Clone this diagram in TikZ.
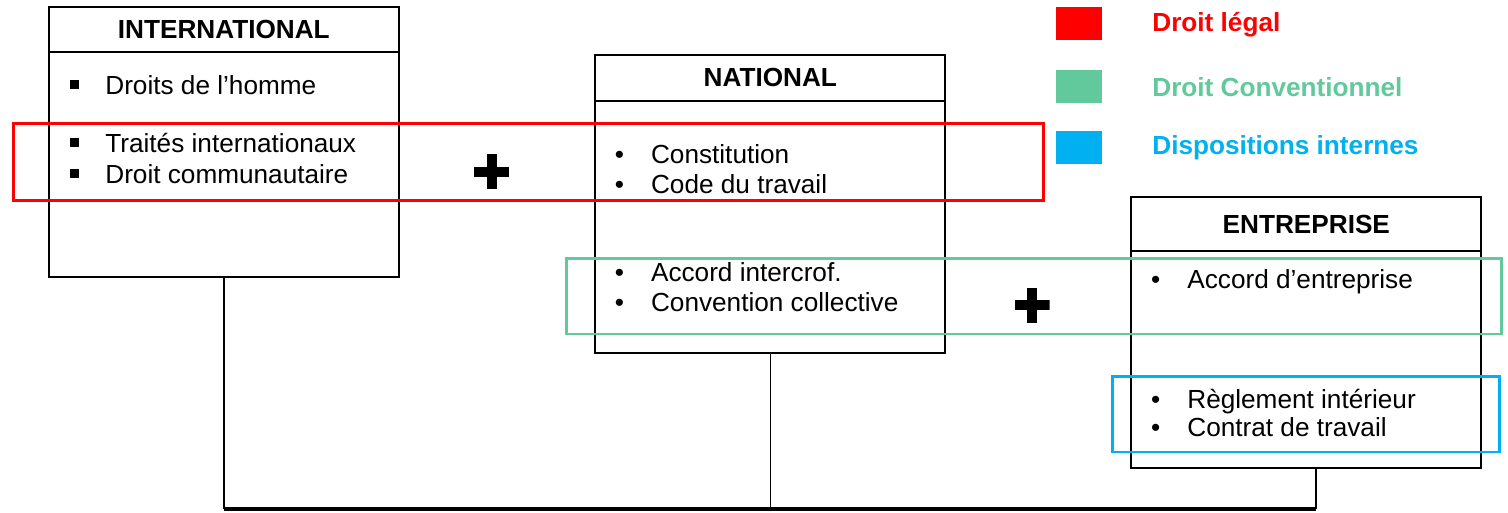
\documentclass[tikz,border=0pt]{standalone}
\usepackage{fontspec}
\setmainfont{Liberation Sans}
\usetikzlibrary{positioning}

\definecolor{legalred}{RGB}{255,0,0}
\definecolor{convgreen}{RGB}{97,201,155}
\definecolor{internblue}{RGB}{0,176,240}

\newcommand{\diagfont}{\fontsize{14.9pt}{17.6pt}\selectfont}
\newcommand{\sqb}{\llap{\rule[0.18em]{0.35em}{0.35em}\hspace{1em}}}
\newcommand{\rdb}{\llap{\textbullet\hspace{1.03em}}}

\begin{document}
\begin{tikzpicture}[x=0.02cm, y=-0.02cm, font=\diagfont]

	\tikzstyle{head}=[draw, line width=1.1pt, minimum width=7cm, inner sep=0pt, outer sep=0pt, font=\diagfont\bfseries]
	\tikzstyle{body}=[draw, line width=1.1pt, minimum width=7cm, inner sep=0pt, outer sep=0pt]
	\tikzstyle{item}=[anchor=base west, inner sep=0pt]
	\tikzstyle{zone}=[draw, line width=1.7pt, inner sep=0pt]
	\tikzstyle{key}=[minimum width=0.92cm, minimum height=0.66cm, inner sep=0pt]
	\tikzstyle{keytext}=[anchor=base west, inner sep=0pt, font=\diagfont\bfseries]
	\tikzstyle{plussign}=[minimum size=0.7cm, inner sep=0pt, path picture={
		\fill ([xshift=-0.35cm, yshift=-0.1cm]path picture bounding box.center) rectangle ([xshift=0.35cm, yshift=0.1cm]path picture bounding box.center);
		\fill ([xshift=-0.1cm, yshift=-0.35cm]path picture bounding box.center) rectangle ([xshift=0.1cm, yshift=0.35cm]path picture bounding box.center);}]
	\tikzstyle{link}=[line width=0.85pt]
	\tikzstyle{bus}=[line width=1.8pt]

	\useasboundingbox (0,0) rectangle (1508,512);

	% international
	\node[head, minimum height=0.9cm] (intl_head) at (223.8,29.5) {INTERNATIONAL};
	\node[body, minimum height=4.5cm, below=0pt of intl_head] (intl_body) {};
	\node[item] (intl_hr) at (105,94) {\sqb Droits de l’homme};
	\node[item] (intl_tr) at (105,152) {\sqb Traités internationaux};
	\node[item] (intl_dc) at (105,183) {\sqb Droit communautaire};

	% national
	\node[head, minimum height=0.91cm] (nat_head) at (770.3,77.9) {NATIONAL};
	\node[body, minimum height=5.05cm, below=0pt of nat_head] (nat_body) {};
	\node[item] (nat_const) at (650.7,163.3) {\rdb Constitution};
	\node[item] (nat_code) at (650.7,193.3) {\rdb Code du travail};
	\node[item] (nat_accord) at (650.7,281.7) {\rdb Accord intercrof.};
	\node[item] (nat_conv) at (650.7,311.7) {\rdb Convention collective};

	% entreprise
	\node[head, minimum height=1.08cm] (entr_head) at (1306.3,224) {ENTREPRISE};
	\node[body, minimum height=4.34cm, below=0pt of entr_head] (entr_body) {};
	\node[item] (entr_accord) at (1187,288.3) {\rdb Accord d’entreprise};
	\node[item] (entr_regl) at (1187,408.3) {\rdb Règlement intérieur};
	\node[item] (entr_contrat) at (1187,436.7) {\rdb Contrat de travail};

	% coloured zones
	\node[zone, draw=legalred, minimum width=20.62cm, minimum height=1.55cm] (zone_legal) at (528.5,161.75) {};
	\node[zone, draw=convgreen, minimum width=18.72cm, minimum height=1.52cm] (zone_conv) at (1034,296) {};
	\node[zone, draw=internblue, minimum width=7.76cm, minimum height=1.52cm] (zone_intern) at (1306,414) {};

	\node[plussign] (plus_legal) at (491.5,171.5) {};
	\node[plussign] (plus_conv) at (1032,305) {};

	% links
	\coordinate (bus_west) at (223.8,509);
	\coordinate (bus_east) at (1316,509);
	\draw[link] (intl_body.south) -- (bus_west);
	\draw[link] (nat_body.south) -- (nat_body.south |- bus_west);
	\draw[link] (bus_east |- entr_body.south) -- (bus_east);
	\draw[bus] (bus_west) -- (bus_east);

	% legend
	\node[key, fill=legalred] (key_legal) at (1079,23.5) {};
	\node[keytext, text=legalred] (lbl_legal) at (1152,31.7) {Droit légal};
	\node[key, fill=convgreen] (key_conv) at (1079,86.5) {};
	\node[keytext, text=convgreen] (lbl_conv) at (1152,96.7) {Droit Conventionnel};
	\node[key, fill=internblue] (key_intern) at (1079,147.5) {};
	\node[keytext, text=internblue] (lbl_intern) at (1152,154.3) {Dispositions internes};

\end{tikzpicture}
\end{document}
